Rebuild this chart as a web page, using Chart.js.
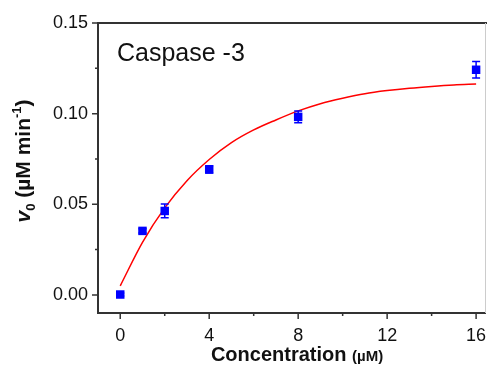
<!DOCTYPE html>
<html lang="en">
<head>
  <meta charset="UTF-8" />
  <title>Caspase -3</title>
  <script src="https://cdn.jsdelivr.net/npm/chart.js"></script>
  <style>
    body { margin: 0; background: #fff; }
    #chart { display: block; }
  </style>
</head>
<body>
<canvas id="chart" width="491" height="367"></canvas>
<script>
  // measured points
  const concentration = [0, 1, 2, 4, 8, 16];
  const rate = [0.0002, 0.0353, 0.0463, 0.0692, 0.0982, 0.1242];
  const rateErr = [0.0008, 0.0012, 0.0038, 0.0020, 0.0033, 0.0045];

  // fitted curve
  const fitX = [0, 1, 2, 3, 4, 5, 6, 7, 8, 9, 10, 11, 12, 13, 14, 15, 16];
  const fitY = [0.005, 0.029, 0.048, 0.063, 0.0747, 0.084, 0.091, 0.0965, 0.1015, 0.1055, 0.1085, 0.111, 0.1127, 0.114, 0.115, 0.1158, 0.1163];

  const xMajor = [0, 4, 8, 12, 16];
  const xMinor = [2, 6, 10, 14];
  const yMajor = [0, 0.05, 0.10, 0.15];
  const yMinor = [0.025, 0.075, 0.125];

  const axisColor = "#333";
  const font = "'Liberation Sans', Arial, sans-serif";

  const framePlugin = {
    id: "frame",
    afterDraw(chart) {
      const ctx = chart.ctx;
      const xs = chart.scales.x, ys = chart.scales.y;
      const area = chart.chartArea;
      ctx.save();

      // error bars
      ctx.strokeStyle = "#0000ff";
      ctx.lineWidth = 1.5;
      concentration.forEach((c, i) => {
        const px = xs.getPixelForValue(c);
        const top = ys.getPixelForValue(rate[i] + rateErr[i]);
        const bot = ys.getPixelForValue(rate[i] - rateErr[i]);
        ctx.beginPath();
        ctx.moveTo(px, top); ctx.lineTo(px, bot);
        ctx.moveTo(px - 4, top); ctx.lineTo(px + 4, top);
        ctx.moveTo(px - 4, bot); ctx.lineTo(px + 4, bot);
        ctx.stroke();
      });

      // top and right frame
      ctx.strokeStyle = axisColor;
      ctx.lineWidth = 2;
      ctx.beginPath();
      ctx.moveTo(area.left, area.top);
      ctx.lineTo(area.right + 2, area.top);
      ctx.stroke();
      ctx.strokeStyle = "#ccc";
      ctx.lineWidth = 1;
      ctx.beginPath();
      ctx.moveTo(area.right + 0.5, area.top);
      ctx.lineTo(area.right + 0.5, area.bottom);
      ctx.stroke();

      // ticks, pointing outward
      ctx.strokeStyle = axisColor;
      ctx.lineWidth = 1.5;
      ctx.beginPath();
      xMajor.forEach(v => { const p = xs.getPixelForValue(v); ctx.moveTo(p, area.bottom); ctx.lineTo(p, area.bottom + 6); });
      xMinor.forEach(v => { const p = xs.getPixelForValue(v); ctx.moveTo(p, area.bottom); ctx.lineTo(p, area.bottom + 3); });
      yMajor.forEach(v => { const p = ys.getPixelForValue(v); ctx.moveTo(area.left, p); ctx.lineTo(area.left - 6, p); });
      yMinor.forEach(v => { const p = ys.getPixelForValue(v); ctx.moveTo(area.left, p); ctx.lineTo(area.left - 3, p); });
      ctx.stroke();

      // label inside the plot
      ctx.fillStyle = "#111";
      ctx.font = "25px " + font;
      ctx.textBaseline = "alphabetic";
      ctx.textAlign = "left";
      ctx.fillText("Caspase -3", 117, 61);

      // x title: Concentration (µM)
      const xParts = [
        { t: "Concentration ", f: "bold 20px " + font, dy: 0 },
        { t: "(\u00b5M)", f: "bold 15px " + font, dy: 0 }
      ];
      drawParts(ctx, xParts, 297, 361);

      // y title: v0 (µM min-1), rotated
      ctx.save();
      ctx.translate(30, 161);
      ctx.rotate(-Math.PI / 2);
      const yParts = [
        { t: "v", f: "italic bold 21px " + font, dy: 0 },
        { t: "0", f: "bold 13px " + font, dy: 5 },
        { t: " (\u00b5M min", f: "bold 21px " + font, dy: 0 },
        { t: "-1", f: "bold 13px " + font, dy: -9 },
        { t: ")", f: "bold 21px " + font, dy: 0 }
      ];
      drawParts(ctx, yParts, 0, 0);
      ctx.restore();

      ctx.restore();
    }
  };

  function drawParts(ctx, parts, cx, baseline) {
    let total = 0;
    parts.forEach(p => { ctx.font = p.f; total += ctx.measureText(p.t).width; });
    let x = cx - total / 2;
    ctx.fillStyle = "#111";
    ctx.textAlign = "left";
    ctx.textBaseline = "alphabetic";
    parts.forEach(p => {
      ctx.font = p.f;
      ctx.fillText(p.t, x, baseline + p.dy);
      x += ctx.measureText(p.t).width;
    });
  }

  new Chart(document.getElementById("chart"), {
    type: "scatter",
    data: {
      datasets: [
        {
          type: "line",
          data: fitX.map((x, i) => ({ x: x, y: fitY[i] })),
          borderColor: "#ff0000",
          borderWidth: 1.5,
          pointRadius: 0,
          cubicInterpolationMode: "monotone",
          fill: false,
          order: 2
        },
        {
          data: concentration.map((x, i) => ({ x: x, y: rate[i] })),
          backgroundColor: "#0000ff",
          borderColor: "#0000ff",
          borderWidth: 0,
          pointStyle: "rect",
          pointRadius: 6,
          order: 1
        }
      ]
    },
    options: {
      responsive: false,
      animation: false,
      layout: { padding: { left: 0, top: 23, right: 2, bottom: 0 } },
      plugins: { legend: { display: false }, tooltip: { enabled: false } },
      scales: {
        x: {
          type: "linear",
          min: -1,
          max: 16.4,
          afterBuildTicks: s => { s.ticks = xMajor.map(v => ({ value: v })); },
          afterFit: s => { s.height = 54; s.paddingLeft = 0; s.paddingRight = 0; },
          grid: { display: false, drawTicks: false },
          border: { display: true, color: axisColor, width: 2 },
          ticks: { color: "#111", padding: 12, font: { family: font, size: 18 }, callback: v => String(v) }
        },
        y: {
          type: "linear",
          min: -0.01,
          max: 0.15,
          afterBuildTicks: s => { s.ticks = yMajor.map(v => ({ value: v })); },
          afterFit: s => { s.width = 98; s.paddingTop = 0; s.paddingBottom = 0; },
          grid: { display: false, drawTicks: false },
          border: { display: true, color: axisColor, width: 2 },
          ticks: { color: "#111", padding: 10, font: { family: font, size: 18 }, callback: v => v.toFixed(2) }
        }
      }
    },
    plugins: [framePlugin]
  });
</script>
</body>
</html>
